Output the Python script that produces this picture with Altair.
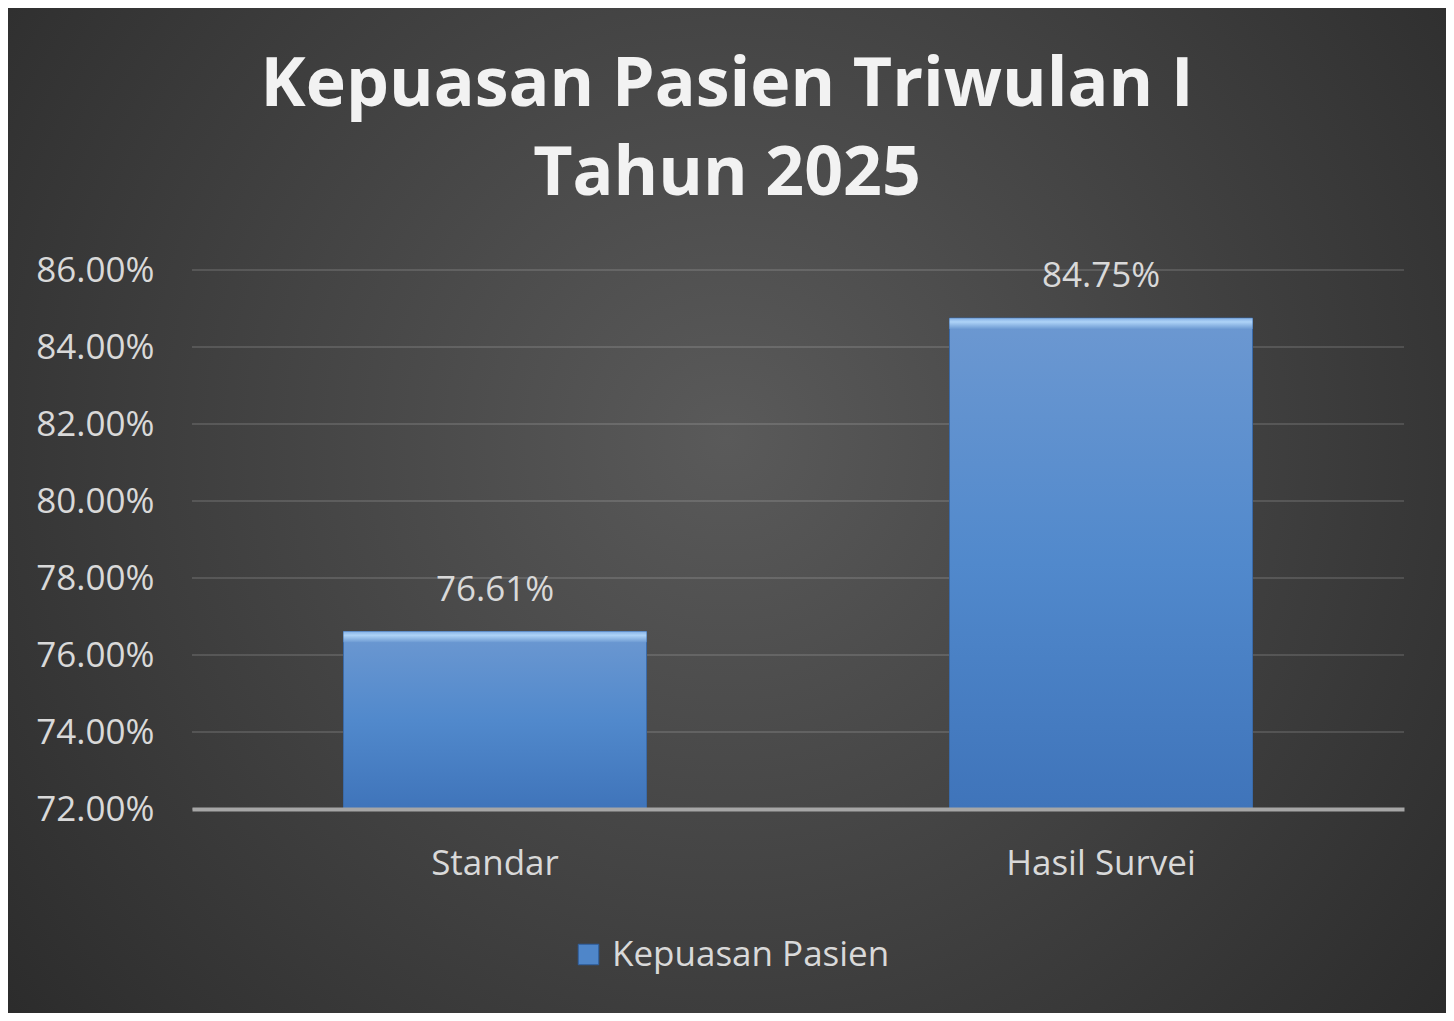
import altair as alt
import pandas as pd

# ---- data ----
categories = ["Standar", "Hasil Survei"]
values = [0.7661, 0.8475]
series_name = "Kepuasan Pasien"
tick_values = [0.72, 0.74, 0.76, 0.78, 0.80, 0.82, 0.84, 0.86]
title_lines = ["Kepuasan Pasien Triwulan I", "Tahun 2025"]
y_min, y_max = 0.72, 0.86

df = pd.DataFrame({"category": categories, "value": values, "series": [series_name] * len(categories)})
grid_df = pd.DataFrame({"value": tick_values})

W, H = 1212, 539
PAD_L, PAD_T, PAD_R, PAD_B = 184, 262, 42, 204
FONT = "Open Sans"
LABEL_COLOR = "#d9d9d9"

x_enc = alt.X("category:N", sort=categories,
              scale=alt.Scale(paddingInner=0.5, paddingOuter=0.25),
              axis=alt.Axis(title=None, labelAngle=0, ticks=False, grid=False,
                            domainColor="#a6a6a6", domainWidth=4, labelLimit=0,
                            labelFontSize=35, labelColor=LABEL_COLOR, labelFont=FONT,
                            labelPadding=37, zindex=1))
y_scale = alt.Scale(domain=[y_min, y_max], nice=False, zero=False)
y_axis = alt.Axis(title=None, values=tick_values, format=".2%", grid=False,
                  domain=False, ticks=False, labelFontSize=35,
                  labelColor=LABEL_COLOR, labelFont=FONT, labelPadding=38,
                  zindex=1)
y_enc = alt.Y("value:Q", scale=y_scale, axis=y_axis)

bg_gradient = {
    "gradient": "radial",
    "x1": 0.5, "y1": 0.45, "r1": 0,
    "x2": 0.5, "y2": 0.45, "r2": 0.72,
    "stops": [{"offset": 0, "color": "#5a5a5a"}, {"offset": 1, "color": "#262626"}],
}
background = alt.Chart(alt.Data(values=[{"k": 1}])).mark_rect(color=bg_gradient).encode(
    x=alt.value(-PAD_L), x2=alt.value(W + PAD_R), y=alt.value(-PAD_T), y2=alt.value(H + PAD_B)
)

grid = alt.Chart(grid_df).mark_rule(color="#ffffff", opacity=0.13, strokeWidth=2).encode(
    y=y_enc
)

bars_legend = alt.Chart(df).mark_bar().encode(
    x=x_enc, y=alt.Y("value:Q"), y2=alt.datum(y_min),
    color=alt.Color("series:N", scale=alt.Scale(range=["#4f86c9"]),
                    legend=alt.Legend(title=None, orient="none", legendX=379, legendY=667,
                                      symbolType="square", symbolSize=420,
                                      symbolStrokeColor="#2f5f9e", symbolStrokeWidth=1,
                                      labelFontSize=35, labelColor=LABEL_COLOR, labelFont=FONT,
                                      labelOffset=6, labelLimit=0)),
)

bar_gradient = {
    "gradient": "linear", "x1": 0, "y1": 0, "x2": 0, "y2": 1,
    "stops": [{"offset": 0, "color": "#6c98d1"},
              {"offset": 0.5, "color": "#5189cc"},
              {"offset": 1, "color": "#3f74ba"}],
}
bars = alt.Chart(df).mark_bar(color=bar_gradient, stroke="#3a6aa8", strokeWidth=1).encode(
    x=alt.X("category:N", sort=categories), y=alt.Y("value:Q"), y2=alt.datum(y_min)
)

hl_gradient = {
    "gradient": "linear", "x1": 0, "y1": 0, "x2": 0, "y2": 1,
    "stops": [{"offset": 0, "color": "#86b2e6"},
              {"offset": 0.35, "color": "#aed3f7"},
              {"offset": 1, "color": "#6e9bd3"}],
}
highlight = alt.Chart(df).mark_bar(color=hl_gradient).transform_calculate(
    top2="datum.value - 0.0028"
).encode(
    x=alt.X("category:N", sort=categories), y=alt.Y("value:Q"), y2=alt.Y2("top2:Q")
)

labels = alt.Chart(df).mark_text(fontSize=35, font=FONT, color=LABEL_COLOR,
                                 baseline="alphabetic", dy=-31).encode(
    x=alt.X("category:N", sort=categories), y=alt.Y("value:Q"),
    text=alt.Text("value:Q", format=".2%")
)

title_layers = []
for line, yb in zip(title_lines, [-164, -75]):
    tdata = alt.Data(values=[{"t": line}])
    main = alt.Chart(tdata).mark_text(fontSize=68, font=FONT, fontWeight="bold",
                                      color="#f2f2f2", align="center",
                                      baseline="alphabetic").encode(
        x=alt.value(535), y=alt.value(yb), text="t:N")
    title_layers.append(main)

chart = alt.layer(background, grid, bars_legend, bars, highlight, labels, *title_layers).properties(
    width=W, height=H,
    autosize=alt.AutoSizeParams(type="none"),
    padding={"left": PAD_L, "top": PAD_T, "right": PAD_R, "bottom": PAD_B},
    background="#2b2b2b",
).configure_view(stroke=None)

chart.save("out.html", embed_options={"renderer": "svg", "actions": False})
